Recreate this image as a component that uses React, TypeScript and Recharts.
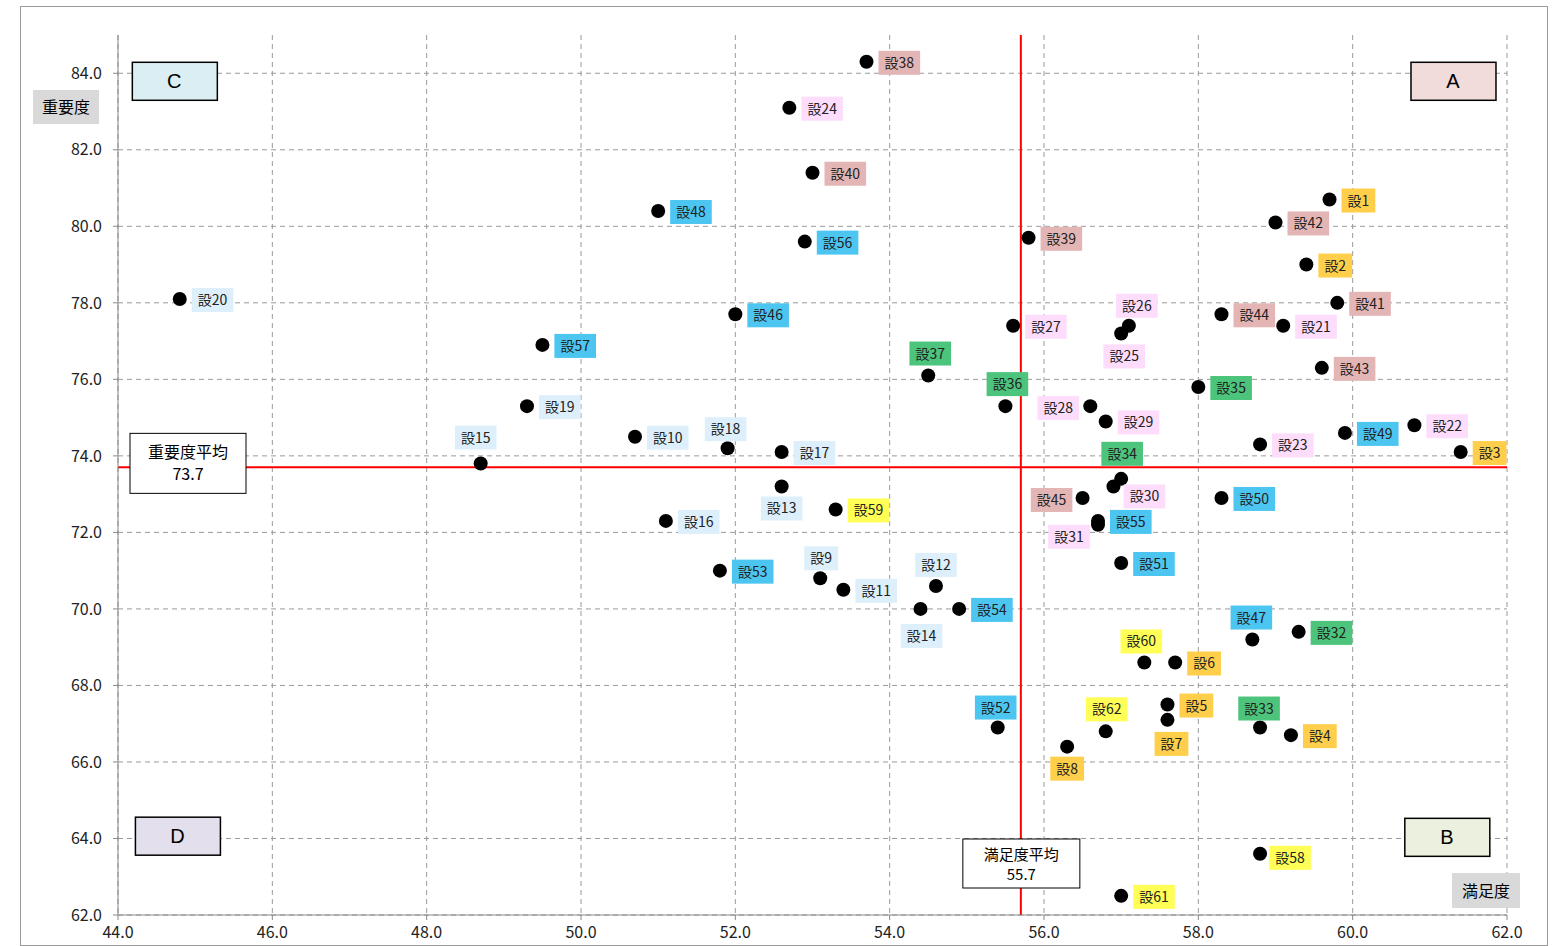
import React from 'react';
import { ScatterChart, Scatter, XAxis, YAxis, CartesianGrid, ReferenceLine, ReferenceDot } from 'recharts';

const names = [
  '設1', '設2', '設3', '設4', '設5', '設6', '設7', '設8', '設9', '設10',
  '設11', '設12', '設13', '設14', '設15', '設16', '設17', '設18', '設19', '設20',
  '設21', '設22', '設23', '設24', '設25', '設26', '設27', '設28', '設29', '設30',
  '設31', '設32', '設33', '設34', '設35', '設36', '設37', '設38', '設39', '設40',
  '設41', '設42', '設43', '設44', '設45', '設46', '設47', '設48', '設49', '設50',
  '設51', '設52', '設53', '設54', '設55', '設56', '設57', '設58', '設59', '設60',
  '設61', '設62',
];

// 満足度 (x)
const satisfaction = [
  59.7, 59.4, 61.4, 59.2, 57.6, 57.7, 57.6, 56.3, 53.1, 50.7,
  53.4, 54.6, 52.6, 54.4, 48.7, 51.1, 52.6, 51.9, 49.3, 44.8,
  59.1, 60.8, 58.8, 52.7, 57.0, 57.1, 55.6, 56.6, 56.8, 56.9,
  56.7, 59.3, 58.8, 57.0, 58.0, 55.5, 54.5, 53.7, 55.8, 53.0,
  59.8, 59.0, 59.6, 58.3, 56.5, 52.0, 58.7, 51.0, 59.9, 58.3,
  57.0, 55.4, 51.8, 54.9, 56.7, 52.9, 49.5, 58.8, 53.3, 57.3,
  57.0, 56.8,
];

// 重要度 (y)
const importance = [
  80.7, 79.0, 74.1, 66.7, 67.5, 68.6, 67.1, 66.4, 70.8, 74.5,
  70.5, 70.6, 73.2, 70.0, 73.8, 72.3, 74.1, 74.2, 75.3, 78.1,
  77.4, 74.8, 74.3, 83.1, 77.2, 77.4, 77.4, 75.3, 74.9, 73.2,
  72.2, 69.4, 66.9, 73.4, 75.8, 75.3, 76.1, 84.3, 79.7, 81.4,
  78.0, 80.1, 76.3, 77.7, 72.9, 77.7, 69.2, 80.4, 74.6, 72.9,
  71.2, 66.9, 71.0, 70.0, 72.3, 79.6, 76.9, 63.6, 72.6, 68.6,
  62.5, 66.8,
];

// label colour group of each item
const groups = [
  'O', 'O', 'O', 'O', 'O', 'O', 'O', 'O', 'S', 'S',
  'S', 'S', 'S', 'S', 'S', 'S', 'S', 'S', 'S', 'S',
  'P', 'P', 'P', 'P', 'P', 'P', 'P', 'P', 'P', 'P',
  'P', 'G', 'G', 'G', 'G', 'G', 'G', 'R', 'R', 'R',
  'R', 'R', 'R', 'R', 'R', 'B', 'B', 'B', 'B', 'B',
  'B', 'B', 'B', 'B', 'B', 'B', 'B', 'Y', 'Y', 'Y',
  'Y', 'Y',
];

const xTicks = [44, 46, 48, 50, 52, 54, 56, 58, 60, 62];
const yTicks = [62, 64, 66, 68, 70, 72, 74, 76, 78, 80, 82, 84];
const satisfactionAvg = 55.7;
const importanceAvg = 73.7;

const quadrants = [
  { name: 'C', x: 44.73, y: 83.79, fill: '#DAEEF3' },
  { name: 'A', x: 61.3, y: 83.79, fill: '#F2DCDB' },
  { name: 'D', x: 44.77, y: 64.06, fill: '#E4DFEC' },
  { name: 'B', x: 61.22, y: 64.03, fill: '#EBF1DE' },
];

const groupColors: Record<string, string> = {
  O: '#FFCF4C',
  S: '#DDEFFB',
  P: '#FDDCFC',
  G: '#4CC47C',
  R: '#E3B6B5',
  B: '#4CC6F1',
  Y: '#FFFF55',
};

// label box centre offsets for labels not placed to the right of their point
const labelOffsets: Record<string, [number, number]> = {
  '設15': [-5, -26], '設18': [-2, -19], '設9': [1, -20], '設12': [0, -21],
  '設60': [-3, -21], '設52': [-2, -20], '設62': [1, -22], '設33': [-1, -19],
  '設47': [-1, -22], '設26': [8, -20], '設37': [2, -22], '設36': [2, -22],
  '設34': [1, -25], '設13': [0, 22], '設14': [1, 27], '設7': [4, 24],
  '設8': [0, 22], '設25': [3, 23], '設28': [-32, 2], '設45': [-31, 2],
  '設31': [-29, 12], '設30': [31, 10], '設58': [30, 4],
};

const data = names.map((name, i) => ({
  name,
  x: satisfaction[i],
  y: importance[i],
  group: groups[i],
}));

const FONT = '"Noto Sans CJK JP", "Noto Sans", sans-serif';

const Dot = (props: any) => {
  const { cx, cy } = props;
  return <circle cx={cx} cy={cy} r={7} fill="#000" />;
};

const PointLabel = (props: any) => {
  const { cx, cy, payload } = props;
  const name: string = payload.name;
  const w = 14 + (name.length - 1) * 7.8 + 12;
  const h = 24;
  let cxBox = cx + 12 + w / 2;
  let cyBox = cy + 1;
  const off = labelOffsets[name];
  if (off) {
    cxBox = cx + off[0];
    cyBox = cy + off[1];
  }
  return (
    <g>
      <rect x={cxBox - w / 2} y={cyBox - h / 2} width={w} height={h} fill={groupColors[payload.group]} />
      <text x={cxBox} y={cyBox + 5} textAnchor="middle" fontSize={14} fontFamily={FONT} fill="#222">
        {name}
      </text>
    </g>
  );
};

const QuadrantBox = (props: any) => {
  const { cx, cy, name, fill } = props;
  return (
    <g>
      <rect x={cx - 42} y={cy - 19} width={85} height={38} fill={fill} stroke="#000" strokeWidth={1.5} />
      <text x={cx} y={cy + 7} textAnchor="middle" fontSize={20} fontFamily='"Liberation Sans", Arial, sans-serif' fill="#000">
        {name}
      </text>
    </g>
  );
};

const ImportanceAvgLabel = (props: any) => {
  const { viewBox } = props;
  const x = viewBox.x + 12;
  const y = viewBox.y - 34;
  return (
    <g>
      <rect x={x} y={y} width={116} height={60} fill="#fff" stroke="#000" strokeWidth={1} />
      <text x={x + 58} y={y + 25} textAnchor="middle" fontSize={16} fontFamily={FONT} fill="#000">重要度平均</text>
      <text x={x + 58} y={y + 47} textAnchor="middle" fontSize={16} fontFamily={FONT} fill="#000">{importanceAvg.toFixed(1)}</text>
    </g>
  );
};

const SatisfactionAvgLabel = (props: any) => {
  const { viewBox } = props;
  const x = viewBox.x - 58;
  const y = viewBox.y + viewBox.height - 76;
  return (
    <g>
      <rect x={x} y={y} width={117} height={49} fill="#fff" stroke="#000" strokeWidth={1} />
      <text x={x + 58.5} y={y + 21} textAnchor="middle" fontSize={15} fontFamily={FONT} fill="#000">満足度平均</text>
      <text x={x + 58.5} y={y + 41} textAnchor="middle" fontSize={15} fontFamily={FONT} fill="#000">{satisfactionAvg.toFixed(1)}</text>
    </g>
  );
};

const YTitle = (props: any) => {
  const { viewBox } = props;
  const x = viewBox.x + viewBox.width - 85;
  const y = viewBox.y + 55;
  return (
    <g>
      <rect x={x} y={y} width={66} height={34} fill="#D9D9D9" />
      <text x={x + 33} y={y + 23} textAnchor="middle" fontSize={16} fontFamily={FONT} fill="#000">重要度</text>
    </g>
  );
};

const XTitle = (props: any) => {
  const { viewBox } = props;
  const x = viewBox.x + viewBox.width - 55;
  const y = viewBox.y - 42;
  return (
    <g>
      <rect x={x} y={y} width={68} height={35} fill="#D9D9D9" />
      <text x={x + 34} y={y + 24} textAnchor="middle" fontSize={16} fontFamily={FONT} fill="#000">満足度</text>
    </g>
  );
};

const tickStyle = { fontSize: 16, fill: '#222', fontFamily: FONT };

export default function App() {
  return (
    <div style={{ position: 'absolute', left: 0, top: 0, width: 1560, height: 946, background: '#fff' }}>
      <div
        style={{
          position: 'absolute',
          left: 20,
          top: 6,
          width: 1528,
          height: 940,
          border: '1px solid #9a9a9a',
          boxSizing: 'border-box',
        }}
      />
      <div style={{ position: 'absolute', left: 0, top: 0 }}>
        <ScatterChart width={1560} height={946} margin={{ top: 35, right: 53, bottom: 6, left: 58 }}>
          <CartesianGrid stroke="#9a9a9a" strokeDasharray="5 4" syncWithTicks />
          <XAxis
            type="number"
            dataKey="x"
            domain={[44, 62]}
            ticks={xTicks}
            tickFormatter={(v: number) => v.toFixed(1)}
            tick={tickStyle}
            stroke="#888"
            tickSize={5}
            tickMargin={7}
            height={25}
            allowDataOverflow
            label={<XTitle />}
          />
          <YAxis
            type="number"
            dataKey="y"
            domain={[62, 85]}
            ticks={yTicks}
            tickFormatter={(v: number) => v.toFixed(1)}
            tick={tickStyle}
            stroke="#888"
            tickSize={5}
            tickMargin={11}
            width={60}
            allowDataOverflow
            label={<YTitle />}
          />
          <ReferenceLine x={satisfactionAvg} stroke="#FF0000" strokeWidth={2} label={<SatisfactionAvgLabel />} />
          <ReferenceLine y={importanceAvg} stroke="#FF0000" strokeWidth={2} label={<ImportanceAvgLabel />} />
          {quadrants.map((q) => (
            <ReferenceDot
              key={q.name}
              x={q.x}
              y={q.y}
              r={1}
              ifOverflow="visible"
              shape={(p: any) => <QuadrantBox {...p} name={q.name} fill={q.fill} />}
            />
          ))}
          <Scatter data={data} shape={<Dot />} isAnimationActive={false} />
          <Scatter data={data} shape={<PointLabel />} isAnimationActive={false} />
        </ScatterChart>
      </div>
    </div>
  );
}
